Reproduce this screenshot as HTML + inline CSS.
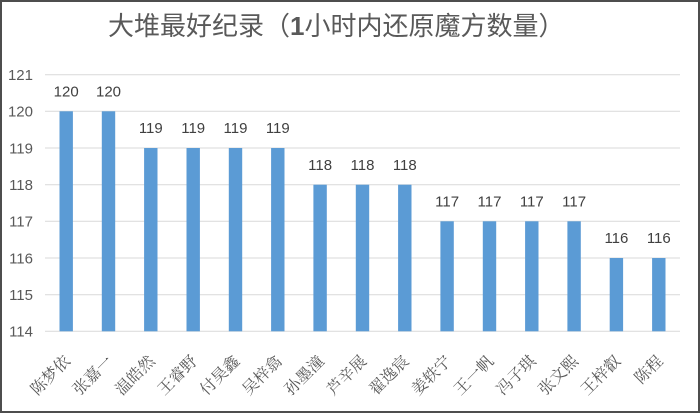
<!DOCTYPE html>
<html>
<head>
<meta charset="utf-8">
<style>
  html,body{margin:0;padding:0;background:#fff;}
  .wrap{position:relative;width:700px;height:413px;box-sizing:border-box;border:2px solid #4d4d4d;background:#fff;overflow:hidden;}
  svg{position:absolute;left:-2px;top:-2px;}
</style>
</head>
<body>
<div class="wrap">
<svg width="700" height="413" viewBox="0 0 700 413" xmlns="http://www.w3.org/2000/svg">
  <!-- title -->
  <text x="108" y="35" font-family="'Liberation Sans','Noto Sans CJK SC',sans-serif" font-size="26" fill="#595959">大堆最好纪录（<tspan font-weight="bold">1</tspan>小时内还原魔方数量）</text>

  <!-- gridlines -->
  <g stroke="#d9d9d9" stroke-width="1">
    <line x1="45" x2="680" y1="74.7" y2="74.7"/>
    <line x1="45" x2="680" y1="111.3" y2="111.3"/>
    <line x1="45" x2="680" y1="148" y2="148"/>
    <line x1="45" x2="680" y1="184.7" y2="184.7"/>
    <line x1="45" x2="680" y1="221.3" y2="221.3"/>
    <line x1="45" x2="680" y1="258" y2="258"/>
    <line x1="45" x2="680" y1="294.7" y2="294.7"/>
    <line x1="45" x2="680" y1="331.3" y2="331.3"/>
  </g>

  <!-- y labels -->
  <g font-family="'Liberation Sans',sans-serif" font-size="15" fill="#595959" text-anchor="end">
    <text x="33" y="80">121</text>
    <text x="33" y="116.6">120</text>
    <text x="33" y="153.3">119</text>
    <text x="33" y="190">118</text>
    <text x="33" y="226.6">117</text>
    <text x="33" y="263.3">116</text>
    <text x="33" y="300">115</text>
    <text x="33" y="336.6">114</text>
  </g>

  <!-- bars -->
  <g fill="#5b9bd5">
    <rect x="59.5" y="111.3" width="13.4" height="220"/>
    <rect x="101.8" y="111.3" width="13.4" height="220"/>
    <rect x="144.1" y="148" width="13.4" height="183.3"/>
    <rect x="186.5" y="148" width="13.4" height="183.3"/>
    <rect x="228.8" y="148" width="13.4" height="183.3"/>
    <rect x="271.1" y="148" width="13.4" height="183.3"/>
    <rect x="313.4" y="184.7" width="13.4" height="146.6"/>
    <rect x="355.8" y="184.7" width="13.4" height="146.6"/>
    <rect x="398.1" y="184.7" width="13.4" height="146.6"/>
    <rect x="440.4" y="221.3" width="13.4" height="110"/>
    <rect x="482.8" y="221.3" width="13.4" height="110"/>
    <rect x="525.1" y="221.3" width="13.4" height="110"/>
    <rect x="567.4" y="221.3" width="13.4" height="110"/>
    <rect x="609.7" y="258" width="13.4" height="73.3"/>
    <rect x="652.1" y="258" width="13.4" height="73.3"/>
  </g>

  <!-- value labels -->
  <g font-family="'Liberation Sans',sans-serif" font-size="15" fill="#404040" text-anchor="middle">
    <text x="66.2" y="96.5">120</text>
    <text x="108.5" y="96.5">120</text>
    <text x="150.8" y="133.2">119</text>
    <text x="193.2" y="133.2">119</text>
    <text x="235.5" y="133.2">119</text>
    <text x="277.8" y="133.2">119</text>
    <text x="320.1" y="169.9">118</text>
    <text x="362.5" y="169.9">118</text>
    <text x="404.8" y="169.9">118</text>
    <text x="447.1" y="206.5">117</text>
    <text x="489.5" y="206.5">117</text>
    <text x="531.8" y="206.5">117</text>
    <text x="574.1" y="206.5">117</text>
    <text x="616.4" y="243.2">116</text>
    <text x="658.8" y="243.2">116</text>
  </g>

  <!-- x labels -->
  <g font-family="'Liberation Serif','Noto Serif CJK SC',serif" font-size="16" fill="#595959" text-anchor="end">
    <text transform="translate(71.2,362) rotate(-45)">陈梦依</text>
    <text transform="translate(113.5,362) rotate(-45)">张嘉一</text>
    <text transform="translate(155.8,362) rotate(-45)">温皓然</text>
    <text transform="translate(198.2,362) rotate(-45)">王睿野</text>
    <text transform="translate(240.5,362) rotate(-45)">付昊鑫</text>
    <text transform="translate(282.8,362) rotate(-45)">吴梓翕</text>
    <text transform="translate(325.1,362) rotate(-45)">孙墨潼</text>
    <text transform="translate(367.5,362) rotate(-45)">芦辛展</text>
    <text transform="translate(409.8,362) rotate(-45)">翟逸宸</text>
    <text transform="translate(452.1,362) rotate(-45)">姜轶宁</text>
    <text transform="translate(494.5,362) rotate(-45)">王一帆</text>
    <text transform="translate(536.8,362) rotate(-45)">冯子琪</text>
    <text transform="translate(579.1,362) rotate(-45)">张文熙</text>
    <text transform="translate(621.4,362) rotate(-45)">王梓叡</text>
    <text transform="translate(663.8,362) rotate(-45)">陈程</text>
  </g>
</svg>
</div>
</body>
</html>
